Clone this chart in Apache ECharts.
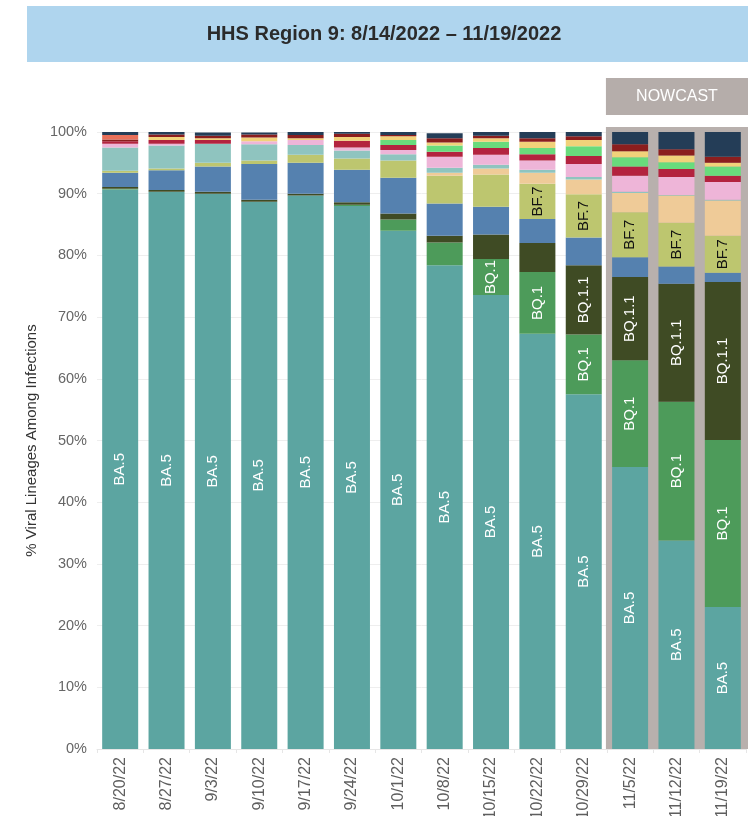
<!DOCTYPE html>
<html>
<head>
<meta charset="utf-8">
<script src="https://cdn.jsdelivr.net/npm/echarts@6/dist/echarts.min.js"></script>
<style>
html,body{margin:0;padding:0;background:#fff;}
#c{width:748px;height:816px;}
</style>
</head>
<body>
<div id="c"></div>
<script>
const categories = ['8/20/22','8/27/22','9/3/22','9/10/22','9/17/22','9/24/22','10/1/22','10/8/22','10/15/22','10/22/22','10/29/22','11/5/22','11/12/22','11/19/22'];
const nowcastStart = '11/5/22';
const yTicks = [0,10,20,30,40,50,60,70,80,90,100];

const BA5      = [90.7, 90.3, 90.0, 88.7, 89.7, 88.0, 84.0, 78.4, 73.6, 67.3, 57.5, 45.7, 33.8, 23.0];
const BQ1      = [0.1, 0.0, 0.0, 0.0, 0.0, 0.2, 1.8, 3.7, 5.8, 10.0, 9.7, 17.3, 22.5, 27.1];
const BQ11     = [0.3, 0.3, 0.3, 0.3, 0.3, 0.4, 1.0, 1.1, 4.0, 4.7, 11.2, 13.5, 19.1, 25.6];
const BA46     = [2.3, 3.2, 4.1, 5.8, 5.0, 5.3, 5.8, 5.2, 4.5, 3.9, 4.5, 3.2, 2.8, 1.5];
const BF7      = [0.3, 0.3, 0.6, 0.6, 1.3, 1.8, 2.8, 4.5, 5.2, 5.7, 7.0, 7.3, 7.1, 6.0];
const BA5263   = [0.0, 0.0, 0.0, 0.0, 0.0, 0.0, 0.0, 0.5, 1.0, 1.8, 2.4, 3.1, 4.4, 5.7];
const BA4      = [3.8, 3.7, 3.1, 2.6, 1.6, 1.3, 1.0, 0.8, 0.6, 0.5, 0.4, 0.2, 0.1, 0.1];
const BA275    = [0.6, 0.3, 0.0, 0.5, 0.8, 0.5, 0.7, 1.8, 1.6, 1.5, 2.1, 2.6, 2.9, 2.9];
const BN1      = [0.4, 0.6, 0.6, 0.0, 0.0, 1.1, 0.8, 0.8, 1.1, 1.0, 1.3, 1.5, 1.3, 1.0];
const XBB      = [0.0, 0.0, 0.0, 0.0, 0.0, 0.0, 0.8, 1.0, 1.0, 1.0, 1.6, 1.5, 1.1, 1.5];
const BA2752   = [0.0, 0.5, 0.3, 0.6, 0.3, 0.6, 0.6, 0.5, 0.6, 1.0, 1.0, 1.0, 1.1, 0.6];
const BF11     = [0.3, 0.4, 0.4, 0.5, 0.5, 0.5, 0.2, 0.7, 0.4, 0.6, 0.6, 1.1, 1.0, 1.0];
const BA2121   = [0.7, 0.0, 0.0, 0.0, 0.0, 0.0, 0.0, 0.0, 0.0, 0.0, 0.0, 0.0, 0.0, 0.0];
const Other    = [0.5, 0.4, 0.5, 0.3, 0.5, 0.3, 0.5, 0.8, 0.6, 1.0, 0.7, 2.0, 2.8, 4.0];

const seriesDefs = [
  {name:'BA.5', data:BA5, color:'#5ca5a1', labelFrom:0, labelColor:'#ffffff'},
  {name:'BQ.1', data:BQ1, color:'#4d9b5a', labelFrom:8, labelColor:'#ffffff'},
  {name:'BQ.1.1', data:BQ11, color:'#3f4b24', labelFrom:10, labelColor:'#ffffff'},
  {name:'BA.4.6', data:BA46, color:'#5581af'},
  {name:'BF.7', data:BF7, color:'#bdc66f', labelFrom:9, labelColor:'#111111'},
  {name:'BA.5.2.6', data:BA5263, color:'#efcb98'},
  {name:'BA.4', data:BA4, color:'#8fc4bf'},
  {name:'BA.2.75', data:BA275, color:'#eeb5d8'},
  {name:'BN.1', data:BN1, color:'#b3233f'},
  {name:'XBB', data:XBB, color:'#69db7c'},
  {name:'BA.2.75.2', data:BA2752, color:'#f1d27a'},
  {name:'BF.11', data:BF11, color:'#8b1e1e'},
  {name:'BA.2.12.1', data:BA2121, color:'#e8705a'},
  {name:'Other', data:Other, color:'#243d57'}
];

const chart = echarts.init(document.getElementById('c'), null, {renderer:'canvas'});
const FONT = '"Liberation Sans", Arial, sans-serif';

const series = seriesDefs.map(d => ({
  name: d.name,
  type: 'bar',
  stack: 'total',
  barWidth: 36,
  z: 3,
  itemStyle: {color: d.color},
  emphasis: {disabled: true},
  data: d.data.map((v, i) => {
    if (d.labelFrom !== undefined && i >= d.labelFrom) {
      return {value: v, label: {show: true, position: 'inside', rotate: 90,
        formatter: d.name, color: d.labelColor, fontSize: 15, fontFamily: FONT}};
    }
    return v;
  })
}));

chart.setOption({
  animation: false,
  textStyle: {fontFamily: FONT},
  grid: {left: 97, right: 2, top: 132, bottom: 67, containLabel: false, outerBoundsMode: 'none'},
  xAxis: {
    type: 'category',
    data: categories,
    z: 0,
    axisLine: {show: true, lineStyle: {color: '#e6e6e6'}},
    axisTick: {show: true, length: 4, lineStyle: {color: '#e6e6e6'}},
    axisLabel: {rotate: 90, interval: 0, color: '#5e5e5e', fontSize: 16, margin: 8, fontFamily: FONT}
  },
  yAxis: {
    type: 'value',
    z: 0,
    min: yTicks[0],
    max: yTicks[yTicks.length - 1],
    interval: 10,
    name: '% Viral Lineages Among Infections',
    nameLocation: 'middle',
    nameGap: 55,
    nameTextStyle: {color: '#333', fontSize: 15, fontFamily: FONT},
    axisLine: {show: false},
    axisTick: {show: false},
    splitLine: {lineStyle: {color: '#eeeeee'}},
    axisLabel: {formatter: '{value}%', color: '#666', fontSize: 14.5, margin: 10, fontFamily: FONT}
  },
  series: series
});

// decorative graphics placed via the chart's own scale
const idx = categories.indexOf(nowcastStart);
const cx = chart.convertToPixel({xAxisIndex: 0}, nowcastStart);
const cx2 = chart.convertToPixel({xAxisIndex: 0}, categories[idx + 1]);
const band = cx2 - cx;
const yTop = chart.convertToPixel({yAxisIndex: 0}, 100);
const yBot = chart.convertToPixel({yAxisIndex: 0}, 0);
const W = chart.getWidth();
const x0 = cx - band / 2 - 1;

chart.setOption({
  graphic: [
    {type: 'rect', z: 1, silent: true,
      shape: {x: 27, y: 6, width: W - 27, height: 56},
      style: {fill: '#afd5ee'}},
    {type: 'text', z: 10, silent: true,
      style: {text: 'HHS Region 9: 8/14/2022 – 11/19/2022', x: 384, y: 34,
        align: 'center', verticalAlign: 'middle',
        font: 'bold 20px "Liberation Sans", Arial, sans-serif', fill: '#2b2b2b'}},
    {type: 'rect', z: 1, silent: true,
      shape: {x: x0, y: 78, width: W - x0, height: 37},
      style: {fill: '#b5adaa'}},
    {type: 'text', z: 10, silent: true,
      style: {text: 'NOWCAST', x: x0 + (W - x0) / 2, y: 97,
        align: 'center', verticalAlign: 'middle',
        font: '16px "Liberation Sans", Arial, sans-serif', fill: '#ffffff'}},
    {type: 'rect', z: 1, silent: true,
      shape: {x: x0, y: yTop - 5, width: W - x0, height: yBot - yTop + 5},
      style: {fill: '#b8b0ad'}}
  ]
});
</script>
</body>
</html>
